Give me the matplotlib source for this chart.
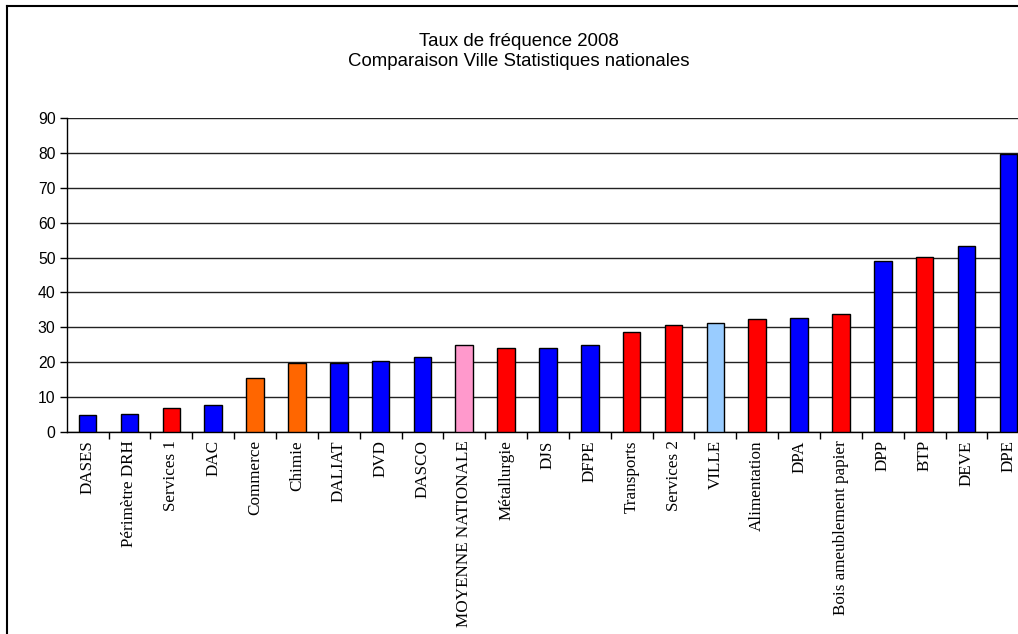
import numpy as np
import matplotlib
matplotlib.use("Agg")
from matplotlib import pyplot as plt
from matplotlib.lines import Line2D

# Données : taux de fréquence 2008 par direction / secteur
categories = [
    "DASES", "Périmètre DRH", "Services 1", "DAC", "Commerce", "Chimie",
    "DALIAT", "DVD", "DASCO", "MOYENNE NATIONALE", "Métallurgie", "DJS",
    "DFPE", "Transports", "Services 2", "VILLE", "Alimentation", "DPA",
    "Bois ameublement papier", "DPP", "BTP", "DEVE", "DPE",
]
valeurs = [
    4.8, 5.2, 7.0, 7.8, 15.4, 19.9, 19.9, 20.3, 21.4, 24.8, 24.1, 24.1,
    24.8, 28.6, 30.8, 31.2, 32.4, 32.8, 33.9, 49.1, 50.3, 53.3, 79.6,
]
# type de barre : direction de la Ville, secteur national, autre
types = [
    "ville", "ville", "secteur", "ville", "orange", "orange",
    "ville", "ville", "ville", "moyenne", "secteur", "ville",
    "ville", "secteur", "secteur", "total", "secteur", "ville",
    "secteur", "ville", "secteur", "ville", "ville",
]
couleurs = {
    "ville": "#0000FF",
    "secteur": "#FF0000",
    "orange": "#FF6600",
    "moyenne": "#FF99CC",
    "total": "#99CCFF",
}

fig = plt.figure(figsize=(10.18, 6.34), dpi=100)
ax = fig.add_axes([0.0655, 0.3186, 0.9456, 0.4953])

x = np.arange(len(categories))
ax.bar(x, valeurs, width=0.42, color=[couleurs[t] for t in types],
       edgecolor="black", linewidth=1.0, zorder=3)

ax.set_xlim(-0.5, len(categories) - 0.5)
ax.set_ylim(0, 90)
ax.set_yticks(range(0, 91, 10))
ax.yaxis.grid(True, color="#222222", linewidth=1.0, zorder=0)
ax.set_axisbelow(True)

# ticks de l'axe X entre les catégories
ax.set_xticks(x)
ax.set_xticklabels(categories, rotation=90, family="Liberation Serif",
                   fontsize=12.3, va="top")
ax.set_xticks(np.arange(len(categories)) + 0.5, minor=True)
ax.tick_params(axis="x", which="major", length=0, pad=6)
ax.tick_params(axis="x", which="minor", length=5, width=1, direction="out")
ax.tick_params(axis="y", length=5, width=1, direction="out", pad=3)
for lab in ax.get_yticklabels():
    lab.set_family("Liberation Sans")
    lab.set_fontsize(11.3)

for s in ["top", "right"]:
    ax.spines[s].set_visible(False)
for s in ["left", "bottom"]:
    ax.spines[s].set_color("black")
    ax.spines[s].set_linewidth(1.0)

fig.text(0.51, 0.934, "Taux de fréquence 2008", ha="center", va="center",
         family="Liberation Sans", fontsize=13.4)
fig.text(0.51, 0.903, "Comparaison Ville Statistiques nationales",
         ha="center", va="center", family="Liberation Sans", fontsize=13.4)

# cadre de la zone de graphique
fig.add_artist(Line2D([7 / 1018, 7 / 1018], [0, 1 - 6 / 634],
                      transform=fig.transFigure, color="black", linewidth=1.5))
fig.add_artist(Line2D([7 / 1018, 1], [1 - 6 / 634, 1 - 6 / 634],
                      transform=fig.transFigure, color="black", linewidth=1.5))

fig.savefig("out.png", dpi=100)
